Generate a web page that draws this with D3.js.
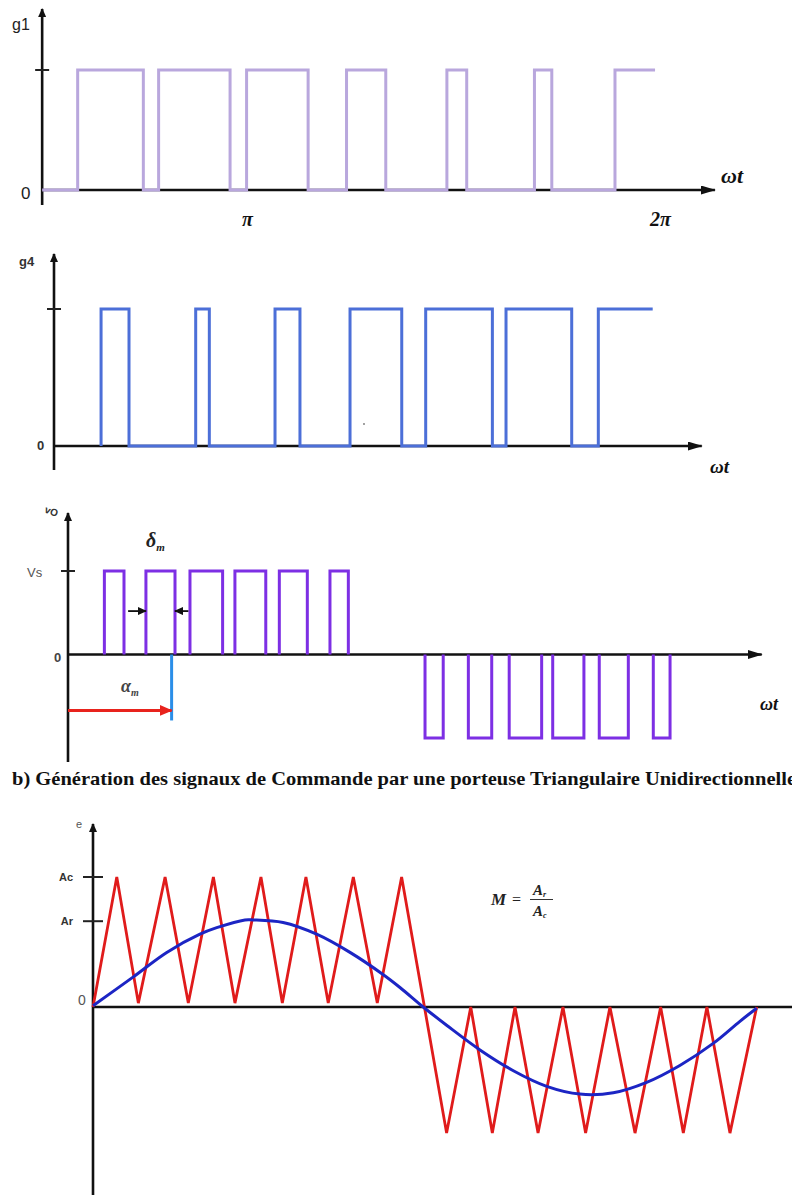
<!DOCTYPE html>
<html>
<head>
<meta charset="utf-8">
<script src="https://cdn.jsdelivr.net/npm/d3@7/dist/d3.min.js"></script>
<style>
  html, body { margin: 0; padding: 0; background: #fff; }
  svg { display: block; }
</style>
</head>
<body>
<svg id="chart" width="792" height="1195"></svg>
<script>
// ---------- data ----------
// g1 gate signal: switching instants in multiples of π (rise, fall, rise, ...)
const g1Start = 0.504;
const g1Edges = [0.590, 0.749, 0.786, 0.959, 0.999, 1.148, 1.241, 1.336, 1.484, 1.532, 1.696, 1.738, 1.891];
const g1End = 1.988;
const g1AxisEnd = 2.133;
const g1TickValues = [1, 2];
const g1TickLabels = ["π", "2π"];

// g4 gate signal: switching instants in degrees (rise, fall, ...)
const g4Edges = [28.3, 45.1, 85.2, 93.4, 132.9, 147.9, 178.0, 209.1, 223.5, 263.6, 271.8, 311.3, 327.3];
const g4End = 360;
const g4AxisEnd = 389.5;

// output voltage vo: pulse intervals in degrees
const voPositive = [[20.4, 31.4], [43.7, 60.0], [68.4, 86.7], [93.6, 110.9], [118.5, 134.2], [146.9, 157.2]];
const voNegative = [[200.2, 210.4], [224.5, 237.6], [247.4, 265.6], [271.8, 289.3], [297.9, 314.2], [328.2, 337.6]];
const voAxisEnd = 389;
const voAlpha = 58.1;

// unidirectional triangular carrier (vertices) and sinusoidal reference
const carrierDeg = [0, 12.9, 24.6, 39.1, 51.7, 65.3, 77.0, 91.1, 102.7, 115.5, 127.6, 141.2, 154.2, 167.4,
                    191.8, 204.9, 216.6, 228.9, 241.4, 254.9, 267.2, 280.4, 294.0, 307.9, 320.2, 333.0, 345.5, 360];
const carrierVal = [0, 1, 0.03, 1, 0.03, 1, 0.03, 1, 0.03, 1, 0.03, 1, 0.03, 1,
                    -0.97, 0, -0.97, 0, -0.97, 0, -0.97, 0, -0.97, 0, -0.97, 0, -0.97, 0];
const refDeg = [0, 21.7, 40.0, 58.0, 67.1, 82.4, 86.8, 103.1, 121.3, 139.4, 157.3, 166.5, 179.1,
                191.8, 209.9, 228.0, 246.1, 264.1, 282.2, 300.3, 318.3, 336.4, 350.9, 360];
const refVal = [0.01, 0.23, 0.42, 0.56, 0.61, 0.67, 0.67, 0.65, 0.56, 0.42, 0.25, 0.15, 0.0,
                -0.14, -0.33, -0.49, -0.61, -0.67, -0.66, -0.58, -0.45, -0.28, -0.11, -0.01];
const Ac = 1;
const Ar = 0.66;
const carrierAxisEnd = 398;

const titleText = "b) Génération des signaux de Commande par une porteuse Triangulaire Unidirectionnelle";

// ---------- drawing ----------
const svg = d3.select("#chart");
svg.append("rect").attr("width", 792).attr("height", 1195).attr("fill", "#fff");

const defs = svg.append("defs");
function arrowMarker(id, color, w, h) {
  defs.append("marker")
    .attr("id", id)
    .attr("viewBox", `0 0 ${w} ${h}`)
    .attr("refX", w - 1).attr("refY", h / 2)
    .attr("markerWidth", w).attr("markerHeight", h)
    .attr("markerUnits", "userSpaceOnUse")
    .attr("orient", "auto")
    .append("path")
    .attr("d", `M0,0L${w},${h / 2}L0,${h}Z`)
    .attr("fill", color);
}
arrowMarker("arrowBig", "#111", 15, 9);
arrowMarker("arrowSmall", "#111", 9, 8);
arrowMarker("arrowRed", "#e8231d", 13, 11);

const serif = "'Liberation Serif', 'Times New Roman', serif";
const sans = "'Liberation Sans', Arial, sans-serif";

// step series from alternating edges, starting low
function stepPoints(start, edges, end) {
  const pts = [[start, 0]];
  let lvl = 0;
  edges.forEach(e => { lvl = 1 - lvl; pts.push([e, lvl]); });
  pts.push([end, lvl]);
  return pts;
}

function drawAxisLines(g, x0, yTop, yBottom, yZero, xEnd, xArrow) {
  g.append("line")
    .attr("x1", x0).attr("x2", x0).attr("y1", yBottom).attr("y2", yTop)
    .attr("stroke", "#111").attr("stroke-width", 2.6)
    .attr("marker-end", "url(#arrowSmall)");
  const xl = g.append("line")
    .attr("x1", x0).attr("x2", xEnd).attr("y1", yZero).attr("y2", yZero)
    .attr("stroke", "#111").attr("stroke-width", 2.6);
  if (xArrow) xl.attr("marker-end", "url(#arrowBig)");
}

// level tick that crosses the vertical axis
function levelTick(g, x0, y, half) {
  g.append("line").attr("x1", x0 - half).attr("x2", x0 + half)
    .attr("y1", y).attr("y2", y)
    .attr("stroke", "#222").attr("stroke-width", 2);
}

function omegaT(g, x, y, size) {
  g.append("text").attr("x", x).attr("y", y)
    .attr("font-family", serif).attr("font-style", "italic").attr("font-weight", "bold")
    .attr("font-size", size).attr("fill", "#111")
    .text("ωt");
}

// ===== Panel 1: g1 =====
{
  const g = svg.append("g");
  const x = d3.scaleLinear().domain([1, 2]).range([247, 660]);
  const y = d3.scaleLinear().domain([0, 1]).range([190, 70]);
  const x0 = x(g1Start);
  drawAxisLines(g, x0, 9, 205, y(0), x(g1AxisEnd), true);
  levelTick(g, x0, y(1), 7);

  const line = d3.line().x(d => x(d[0])).y(d => y(d[1])).curve(d3.curveStepAfter);
  g.append("path")
    .datum(stepPoints(g1Start, g1Edges, g1End))
    .attr("d", line).attr("fill", "none")
    .attr("stroke", "#b9a7dd").attr("stroke-width", 3);

  const ax = d3.axisBottom(x).tickValues(g1TickValues)
    .tickFormat((d, i) => g1TickLabels[i]).tickSize(0).tickPadding(22);
  const axg = g.append("g").attr("transform", `translate(0,${y(0)})`).call(ax);
  axg.select(".domain").remove();
  axg.selectAll("text").attr("font-family", serif).attr("font-style", "italic")
    .attr("font-weight", "bold").attr("font-size", 20).attr("fill", "#111");

  g.append("text").attr("x", 12).attr("y", 30).attr("font-family", sans)
    .attr("font-size", 16).attr("fill", "#222").text("g1");
  g.append("text").attr("x", 21).attr("y", 199).attr("font-family", sans)
    .attr("font-size", 17).attr("fill", "#222").text("0");
  omegaT(g, 721, 183, 22);
}

// ===== Panel 2: g4 =====
{
  const g = svg.append("g");
  const x = d3.scaleLinear().domain([0, 360]).range([54, 652.7]);
  const y = d3.scaleLinear().domain([0, 1]).range([446, 309]);
  drawAxisLines(g, x(0), 254, 470, y(0), x(g4AxisEnd), true);
  levelTick(g, x(0), y(1), 7);

  const line = d3.line().x(d => x(d[0])).y(d => y(d[1])).curve(d3.curveStepAfter);
  g.append("path")
    .datum(stepPoints(g4Edges[0], g4Edges, g4End))
    .attr("d", line).attr("fill", "none")
    .attr("stroke", "#4c6fd8").attr("stroke-width", 3);

  g.append("text").attr("x", 19).attr("y", 266).attr("font-family", sans)
    .attr("font-size", 13).attr("font-weight", "bold").attr("fill", "#333").text("g4");
  g.append("text").attr("x", 37).attr("y", 450).attr("font-family", sans)
    .attr("font-size", 13).attr("font-weight", "bold").attr("fill", "#333").text("0");
  g.append("circle").attr("cx", 364).attr("cy", 424).attr("r", 0.9).attr("fill", "#777");
  omegaT(g, 710, 473, 19);
}

// ===== Panel 3: vo =====
{
  const g = svg.append("g");
  const x = d3.scaleLinear().domain([0, 360]).range([68, 710]);
  const y = d3.scaleLinear().domain([-1, 1]).range([738, 571]);
  drawAxisLines(g, x(0), 513, 762, y(0), x(voAxisEnd), true);
  levelTick(g, x(0), y(1), 7);

  const line = d3.line().x(d => x(d[0])).y(d => y(d[1]));
  const pulses = voPositive.map(p => [[p[0], 0], [p[0], 1], [p[1], 1], [p[1], 0]])
    .concat(voNegative.map(p => [[p[0], 0], [p[0], -1], [p[1], -1], [p[1], 0]]));
  g.selectAll("path.pulse").data(pulses).join("path")
    .attr("class", "pulse")
    .attr("d", line).attr("fill", "none")
    .attr("stroke", "#7d2fe4").attr("stroke-width", 3);

  // pulse-width marker on the second pulse
  const pw = voPositive[1];
  const yArr = y(0.52);
  g.append("line").attr("x1", x(pw[0] - 10)).attr("x2", x(pw[0])).attr("y1", yArr).attr("y2", yArr)
    .attr("stroke", "#111").attr("stroke-width", 1.8).attr("marker-end", "url(#arrowSmall)");
  g.append("line").attr("x1", x(pw[1] + 7.5)).attr("x2", x(pw[1])).attr("y1", yArr).attr("y2", yArr)
    .attr("stroke", "#111").attr("stroke-width", 1.8).attr("marker-end", "url(#arrowSmall)");

  // α marker: red arrow from origin to the blue line
  g.append("line").attr("x1", x(voAlpha)).attr("x2", x(voAlpha)).attr("y1", y(0)).attr("y2", y(-0.79))
    .attr("stroke", "#2a8ee8").attr("stroke-width", 3);
  g.append("line").attr("x1", x(0)).attr("x2", x(voAlpha)).attr("y1", y(-0.67)).attr("y2", y(-0.67))
    .attr("stroke", "#e8231d").attr("stroke-width", 3).attr("marker-end", "url(#arrowRed)");

  g.append("text").attr("x", 45).attr("y", 515).attr("font-family", sans)
    .attr("font-size", 10).attr("font-weight", "bold").attr("fill", "#333")
    .attr("transform", "rotate(20,52,511)").text("vO");
  g.append("text").attr("x", 27).attr("y", 577).attr("font-family", sans)
    .attr("font-size", 13).attr("fill", "#555").text("Vs");
  g.append("text").attr("x", 54).attr("y", 662).attr("font-family", sans)
    .attr("font-size", 13).attr("font-weight", "bold").attr("fill", "#444").text("0");

  const dl = g.append("text").attr("x", 146).attr("y", 547).attr("font-family", serif)
    .attr("font-style", "italic").attr("font-weight", "bold").attr("font-size", 20).attr("fill", "#222");
  dl.append("tspan").text("δ");
  dl.append("tspan").attr("font-size", 11).attr("dy", 4).text("m");
  const al = g.append("text").attr("x", 121).attr("y", 692).attr("font-family", serif)
    .attr("font-style", "italic").attr("font-weight", "bold").attr("font-size", 18).attr("fill", "#444");
  al.append("tspan").text("α");
  al.append("tspan").attr("font-size", 10).attr("dy", 4).text("m");
  omegaT(g, 760, 710, 18);
}

// ===== Title =====
svg.append("text").attr("x", 12).attr("y", 785)
  .attr("font-family", serif).attr("font-weight", "bold").attr("font-size", 19)
  .attr("textLength", 784).attr("lengthAdjust", "spacingAndGlyphs")
  .attr("fill", "#111").text(titleText);

// ===== Panel 4: carrier and reference =====
{
  const g = svg.append("g");
  const x = d3.scaleLinear().domain([0, 360]).range([93, 756.7]);
  const y = d3.scaleLinear().domain([-1, 1]).range([1137, 877]);
  drawAxisLines(g, x(0), 824, 1195, y(0), x(carrierAxisEnd), false);
  levelTick(g, x(0), y(Ac), 10);
  levelTick(g, x(0), y(Ar), 10);

  const line = d3.line().x(d => x(d[0])).y(d => y(d[1]));
  g.append("path")
    .datum(carrierDeg.map((d, i) => [d, carrierVal[i]]))
    .attr("d", line).attr("fill", "none")
    .attr("stroke", "#e01b1b").attr("stroke-width", 2.8).attr("stroke-linejoin", "miter");
  g.append("path")
    .datum(refDeg.map((d, i) => [d, refVal[i]]))
    .attr("d", line.curve(d3.curveCatmullRom.alpha(0.5))).attr("fill", "none")
    .attr("stroke", "#1c25c4").attr("stroke-width", 3);

  g.append("text").attr("x", 76).attr("y", 828).attr("font-family", sans)
    .attr("font-size", 11).attr("fill", "#555").text("e");
  g.append("text").attr("x", 73).attr("y", y(Ac) + 4).attr("text-anchor", "end").attr("font-family", sans)
    .attr("font-size", 11).attr("font-weight", "bold").attr("fill", "#333").text("Ac");
  g.append("text").attr("x", 73).attr("y", y(Ar) + 4).attr("text-anchor", "end").attr("font-family", sans)
    .attr("font-size", 11).attr("font-weight", "bold").attr("fill", "#333").text("Ar");
  g.append("text").attr("x", 78).attr("y", 1005).attr("font-family", sans)
    .attr("font-size", 14).attr("fill", "#555").text("0");

  // modulation index M = Ar / Ac
  const f = g.append("g").attr("font-family", serif).attr("font-style", "italic")
    .attr("font-weight", "bold").attr("fill", "#222");
  f.append("text").attr("x", 491).attr("y", 905).attr("font-size", 17).text("M");
  f.append("text").attr("x", 512).attr("y", 905).attr("font-size", 16).attr("font-style", "normal")
    .attr("font-weight", "normal").text("=");
  const num = f.append("text").attr("x", 533).attr("y", 895).attr("font-size", 15);
  num.append("tspan").text("A");
  num.append("tspan").attr("font-size", 8).attr("dy", 2).text("r");
  f.append("line").attr("x1", 530).attr("x2", 553).attr("y1", 899.5).attr("y2", 899.5)
    .attr("stroke", "#333").attr("stroke-width", 1);
  const den = f.append("text").attr("x", 533).attr("y", 916).attr("font-size", 15);
  den.append("tspan").text("A");
  den.append("tspan").attr("font-size", 8).attr("dy", 2).text("c");
}
</script>
</body>
</html>
